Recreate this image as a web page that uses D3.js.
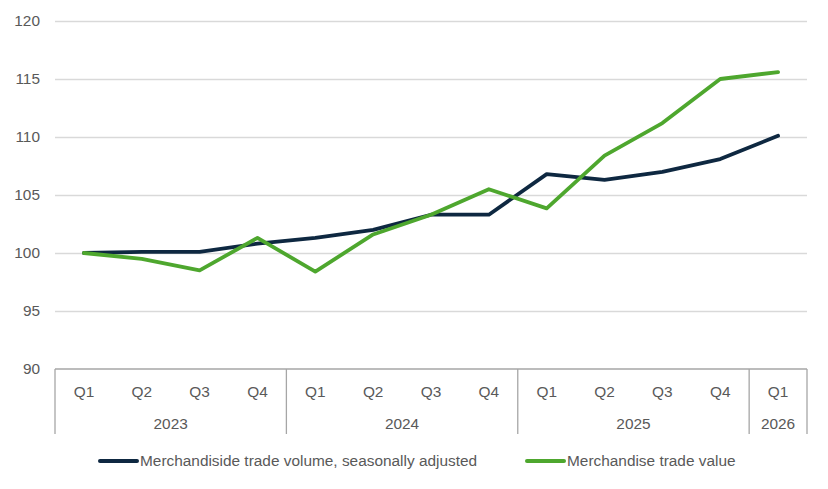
<!DOCTYPE html>
<html>
<head>
<meta charset="utf-8">
<script src="https://cdn.jsdelivr.net/npm/d3@7"></script>
<style>
  body { margin: 0; background: #fff; }
  svg text { font-family: "Liberation Sans", Arial, sans-serif; fill: #595959; }
</style>
</head>
<body>
<div id="graph"></div>
<script>
// quarters along the x axis, grouped by year
var quarters = ['Q1','Q2','Q3','Q4','Q1','Q2','Q3','Q4','Q1','Q2','Q3','Q4','Q1']
var years = ['2023','2023','2023','2023','2024','2024','2024','2024','2025','2025','2025','2025','2026']

var volume = [100, 100.1, 100.1, 100.8, 101.3, 102.0, 103.3, 103.3, 106.8, 106.3, 107.0, 108.1, 110.1]
var value  = [100, 99.5, 98.5, 101.3, 98.4, 101.6, 103.3, 105.5, 103.85, 108.4, 111.2, 115.0, 115.6]

var seriesNames = ['Merchandiside trade volume, seasonally adjusted', 'Merchandise trade value']
var yTicks = [90, 95, 100, 105, 110, 115, 120]

var width = 828, height = 489
var margin = {left: 55, right: 21, top: 21, bottom: 120}
var fs = '15.4px'

var svg = d3.select('#graph').append('svg')
  .attr('width', width).attr('height', height)

var keys = quarters.map((d, i) => i)

var x = d3.scaleBand()
  .domain(keys)
  .range([margin.left, width - margin.right])

var y = d3.scaleLinear()
  .domain([90, 120])
  .range([height - margin.bottom, margin.top])

// gridlines + y labels
var yAxis = svg.append('g')
  .attr('transform', `translate(${margin.left},0)`)
  .call(d3.axisLeft(y).tickValues(yTicks).tickSize(-(width - margin.left - margin.right)).tickPadding(15))
yAxis.select('.domain').remove()
yAxis.selectAll('.tick line').attr('stroke', '#d9d9d9').attr('stroke-width', 1.3)
  .filter(d => d == 90).remove()
yAxis.selectAll('.tick text').style('font-size', fs).attr('fill', '#595959')

// category axis: quarter labels, year labels and dividers
var y0 = y(90)
var axisG = svg.append('g')
axisG.append('line')
  .attr('x1', margin.left).attr('x2', width - margin.right)
  .attr('y1', y0).attr('y2', y0)
  .attr('stroke', '#a6a6a6').attr('stroke-width', 1.3)

axisG.selectAll('text.q').data(keys).enter().append('text')
  .attr('x', d => x(d) + x.bandwidth() / 2)
  .attr('y', y0 + 28)
  .attr('text-anchor', 'middle')
  .style('font-size', fs)
  .text(d => quarters[d])

var yearGroups = d3.groups(keys, d => years[d])
yearGroups.forEach(([yr, idx]) => {
  var x0 = x(idx[0]), x1 = x(idx[idx.length - 1]) + x.bandwidth()
  axisG.append('text')
    .attr('x', (x0 + x1) / 2)
    .attr('y', y0 + 60)
    .attr('text-anchor', 'middle')
    .style('font-size', fs)
    .text(yr)
})
var dividers = yearGroups.map(g => x(g[1][0])).concat([x(keys[keys.length - 1]) + x.bandwidth()])
axisG.selectAll('line.div').data(dividers).enter().append('line')
  .attr('x1', d => d).attr('x2', d => d)
  .attr('y1', y0).attr('y2', y0 + 65)
  .attr('stroke', '#a6a6a6').attr('stroke-width', 1.3)

// lines
var colors = ['#0e2841', '#4ea72e']
var line = d3.line()
  .x((d, i) => x(i) + x.bandwidth() / 2)
  .y(d => y(d))

;[volume, value].forEach((s, i) => {
  svg.append('path')
    .attr('d', line(s))
    .attr('fill', 'none')
    .attr('stroke', colors[i])
    .attr('stroke-width', 3.8)
    .attr('stroke-linejoin', 'round')
    .attr('stroke-linecap', 'round')
})

// legend
var legendX = [100, 527]
var legend = svg.selectAll('g.legend').data(seriesNames).enter().append('g')
  .attr('transform', (d, i) => `translate(${legendX[i]},461)`)
legend.append('line')
  .attr('x1', 0).attr('x2', 37)
  .attr('stroke', (d, i) => colors[i])
  .attr('stroke-width', 4)
  .attr('stroke-linecap', 'round')
legend.append('text')
  .attr('x', 40).attr('dy', '0.35em')
  .style('font-size', fs)
  .text(d => d)
</script>
</body>
</html>
